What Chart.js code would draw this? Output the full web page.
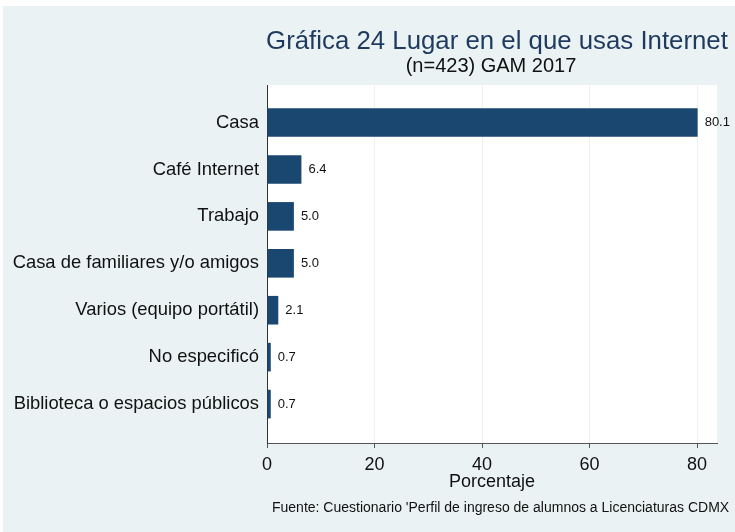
<!DOCTYPE html>
<html>
<head>
<meta charset="utf-8">
<script src="https://cdn.jsdelivr.net/npm/chart.js@4/dist/chart.umd.min.js"></script>
<style>
  html, body { margin: 0; padding: 0; background: #ffffff; }
  #wrap { width: 735px; height: 532px; position: relative; }
</style>
</head>
<body>
<div id="wrap"><canvas id="c" width="735" height="532"></canvas></div>
<script>
const titleText = 'Gráfica 24 Lugar en el que usas Internet';
const subtitleText = '(n=423) GAM 2017';
const axisTitle = 'Porcentaje';
const footerText = "Fuente: Cuestionario 'Perfil de ingreso de alumnos a Licenciaturas CDMX";
const categories = ['Casa', 'Café Internet', 'Trabajo', 'Casa de familiares y/o amigos',
  'Varios (equipo portátil)', 'No especificó', 'Biblioteca o espacios públicos'];
const values = [80.1, 6.4, 5.0, 5.0, 2.1, 0.7, 0.7];
const xTicks = [0, 20, 40, 60, 80];

const FONT = "'Liberation Sans', Arial, Helvetica, sans-serif";
const BG = '#EAF2F3';
const BAR = '#1A476F';

const bgPlugin = {
  id: 'bg',
  beforeDraw(chart) {
    const ctx = chart.ctx, a = chart.chartArea;
    ctx.save();
    ctx.fillStyle = '#ffffff';
    ctx.fillRect(0, 0, chart.width, chart.height);
    ctx.fillStyle = BG;
    ctx.fillRect(3, 6, chart.width - 3, chart.height - 6);
    ctx.fillStyle = '#ffffff';
    ctx.fillRect(a.left, a.top, a.right - a.left, a.bottom - a.top);
    ctx.restore();
  }
};

const textPlugin = {
  id: 'texts',
  afterDraw(chart) {
    const ctx = chart.ctx;
    ctx.save();
    ctx.textAlign = 'center';
    ctx.textBaseline = 'alphabetic';
    ctx.fillStyle = '#1F3A5F';
    ctx.font = '25.8px ' + FONT;
    ctx.fillText(titleText, 497, 49);
    ctx.fillStyle = '#111111';
    ctx.font = '20px ' + FONT;
    ctx.fillText(subtitleText, 491, 72);
    ctx.textAlign = 'left';
    ctx.textBaseline = 'middle';
    ctx.font = '14px ' + FONT;
    ctx.fillText(footerText, 272, 508);
    ctx.restore();
  }
};

const valuePlugin = {
  id: 'values',
  afterDatasetsDraw(chart) {
    const ctx = chart.ctx;
    const meta = chart.getDatasetMeta(0);
    ctx.save();
    ctx.font = '13px ' + FONT;
    ctx.fillStyle = '#111111';
    ctx.textAlign = 'left';
    ctx.textBaseline = 'middle';
    meta.data.forEach((bar, i) => {
      ctx.fillText(values[i].toFixed(1), bar.x + 7, bar.y);
    });
    ctx.restore();
  }
};

new Chart(document.getElementById('c'), {
  type: 'bar',
  data: {
    datasets: [{
      data: values.map((v, i) => ({ x: v, y: i })),
      backgroundColor: BAR,
      borderColor: BAR,
      borderWidth: 0,
      categoryPercentage: 1,
      barPercentage: 0.61
    }]
  },
  plugins: [bgPlugin, valuePlugin, textPlugin],
  options: {
    indexAxis: 'y',
    responsive: false,
    animation: false,
    layout: { padding: { top: 85, right: 18, left: 0, bottom: 0 } },
    plugins: {
      legend: { display: false },
      tooltip: { enabled: false },
      title: { display: false }
    },
    scales: {
      x: {
        type: 'linear',
        position: 'bottom',
        min: 0,
        max: 83.7,
        afterFit(s) { s.height = 89; },
        ticks: {
          stepSize: 20,
          includeBounds: false,
          autoSkip: false,
          padding: 6,
          color: '#111111',
          font: { family: FONT, size: 18 },
          callback: (v) => xTicks.includes(v) ? String(v) : ''
        },
        grid: {
          color: BG,
          lineWidth: 1,
          drawTicks: true,
          tickLength: 5,
          tickColor: '#555555'
        },
        border: { display: true, color: '#555555', width: 1 },
        title: {
          display: true,
          text: axisTitle,
          color: '#111111',
          font: { family: FONT, size: 18 },
          padding: { top: 0, bottom: 39 }
        }
      },
      y: {
        type: 'linear',
        position: 'left',
        reverse: true,
        offset: false,
        min: -0.8,
        max: 6.83,
        afterFit(s) { s.width = 267; },
        ticks: {
          stepSize: 1,
          includeBounds: false,
          autoSkip: false,
          padding: 8,
          color: '#111111',
          font: { family: FONT, size: 18.4 },
          callback: (v) => (Number.isInteger(v) && categories[v] !== undefined) ? categories[v] : ''
        },
        grid: { display: false, drawTicks: false, offset: false },
        border: { display: true, color: '#333333', width: 1 }
      }
    }
  }
});
</script>
</body>
</html>
